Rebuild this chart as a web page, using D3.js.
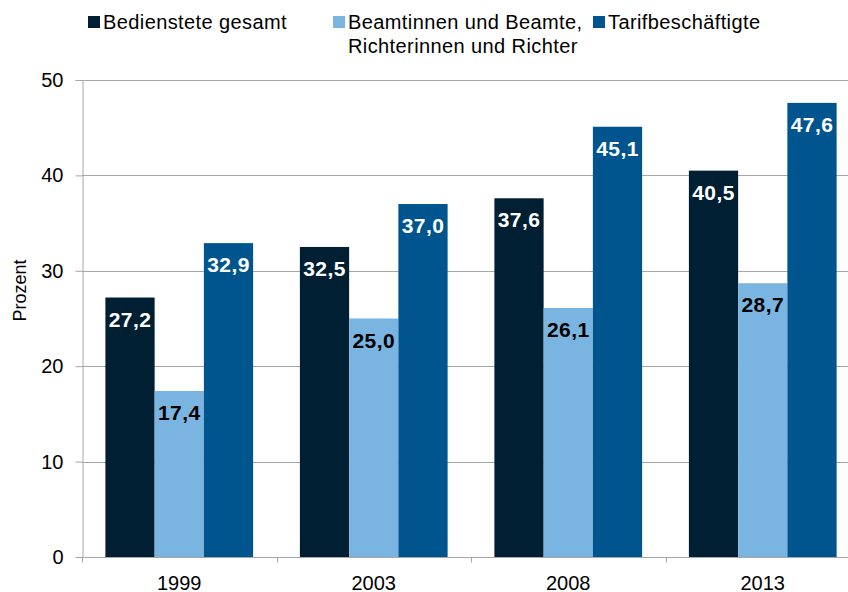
<!DOCTYPE html>
<html>
<head>
<meta charset="utf-8">
<script src="https://cdn.jsdelivr.net/npm/d3@7"></script>
<style>
  html, body { margin: 0; padding: 0; background: #fff; }
  svg text { font-family: "Liberation Sans", Arial, sans-serif; }
</style>
</head>
<body>
<div id="chart"></div>
<script>
const years = ['1999', '2003', '2008', '2013']
const seriesNames = ['Bedienstete gesamt', 'Beamtinnen und Beamte,\nRichterinnen und Richter', 'Tarifbeschäftigte']
const gesamt = [27.2, 32.5, 37.6, 40.5]
const beamte = [17.4, 25.0, 26.1, 28.7]
const tarif = [32.9, 37.0, 45.1, 47.6]
const yTicks = [0, 10, 20, 30, 40, 50]

const colors = ['#001f33', '#7ab5e2', '#00558f']
const labelColors = ['#fff', '#000', '#fff']
const seriesValues = [gesamt, beamte, tarif]

const width = 848, height = 592
const margin = { top: 80, left: 82, bottom: 35 }
const plotRight = 860

const svg = d3.select('#chart').append('svg')
  .attr('width', width)
  .attr('height', height)

const x = d3.scaleBand().domain(years).range([margin.left, plotRight])
const x1 = d3.scaleBand().domain(d3.range(3)).range([0, x.bandwidth()]).paddingOuter(0.475)
const y = d3.scaleLinear().domain([0, 50]).range([height - margin.bottom, margin.top])

// gridlines
svg.append('g')
  .selectAll('line')
  .data(yTicks.filter(d => d > 0))
  .join('line')
  .attr('x1', margin.left).attr('x2', width)
  .attr('y1', d => Math.round(y(d)) + 0.5).attr('y2', d => Math.round(y(d)) + 0.5)
  .attr('stroke', '#a6a6a6').attr('stroke-width', 1)

// bars
const groups = svg.append('g')
  .selectAll('g')
  .data(years)
  .join('g')
  .attr('transform', d => `translate(${x(d)},0)`)

groups.selectAll('rect')
  .data((d, i) => seriesValues.map((s, k) => ({ k, v: s[i] })))
  .join('rect')
  .attr('x', d => x1(d.k))
  .attr('width', x1.bandwidth())
  .attr('y', d => y(d.v))
  .attr('height', d => y(0) - y(d.v))
  .attr('fill', d => colors[d.k])

groups.selectAll('text')
  .data((d, i) => seriesValues.map((s, k) => ({ k, v: s[i] })))
  .join('text')
  .attr('x', d => x1(d.k) + x1.bandwidth() / 2)
  .attr('y', d => y(d.v) + 29)
  .attr('text-anchor', 'middle')
  .attr('font-size', 21)
  .attr('font-weight', 'bold')
  .attr('letter-spacing', 0.4)
  .attr('fill', d => labelColors[d.k])
  .text(d => d.v.toFixed(1).replace('.', ','))

// y axis
const yAxis = svg.append('g')
  .attr('transform', `translate(${margin.left + 0.5},0)`)
  .call(d3.axisLeft(y).tickValues(yTicks).tickSize(7).tickPadding(12))
yAxis.select('.domain').attr('stroke', '#a6a6a6')
yAxis.selectAll('.tick line').attr('stroke', '#a6a6a6')
yAxis.selectAll('.tick text')
  .attr('font-size', 20)
  .attr('font-family', '"Liberation Sans", Arial, sans-serif')
  .attr('fill', '#000')

// x axis
const xAxis = svg.append('g')
  .attr('transform', `translate(0,${y(0) + 0.5})`)
xAxis.append('line')
  .attr('x1', margin.left).attr('x2', width)
  .attr('stroke', '#a6a6a6')
xAxis.selectAll('line.tk')
  .data(years)
  .join('line')
  .attr('class', 'tk')
  .attr('x1', d => Math.round(x(d)) + 0.5).attr('x2', d => Math.round(x(d)) + 0.5)
  .attr('y1', 0).attr('y2', 5)
  .attr('stroke', '#a6a6a6')
xAxis.selectAll('text')
  .data(years)
  .join('text')
  .attr('x', d => x(d) + x.bandwidth() / 2)
  .attr('y', 32)
  .attr('text-anchor', 'middle')
  .attr('font-size', 20)
  .text(d => d)

// y axis title
svg.append('text')
  .attr('transform', `translate(26,${(y(0) + y(50)) / 2 - 28}) rotate(-90)`)
  .attr('text-anchor', 'middle')
  .attr('font-size', 18)
  .text('Prozent')

// legend
const legendX = [88, 333, 593]
const legend = svg.append('g')
seriesNames.forEach((name, i) => {
  const g = legend.append('g').attr('transform', `translate(${legendX[i]},0)`)
  g.append('rect')
    .attr('x', 0).attr('y', 16)
    .attr('width', 12).attr('height', 12)
    .attr('fill', colors[i])
  const t = g.append('text')
    .attr('x', 15).attr('y', 29)
    .attr('font-size', 20)
    .attr('letter-spacing', 0.4)
  name.split('\n').forEach((line, j) => {
    t.append('tspan').attr('x', 15).attr('dy', j === 0 ? 0 : 24).text(line)
  })
})
</script>
</body>
</html>
